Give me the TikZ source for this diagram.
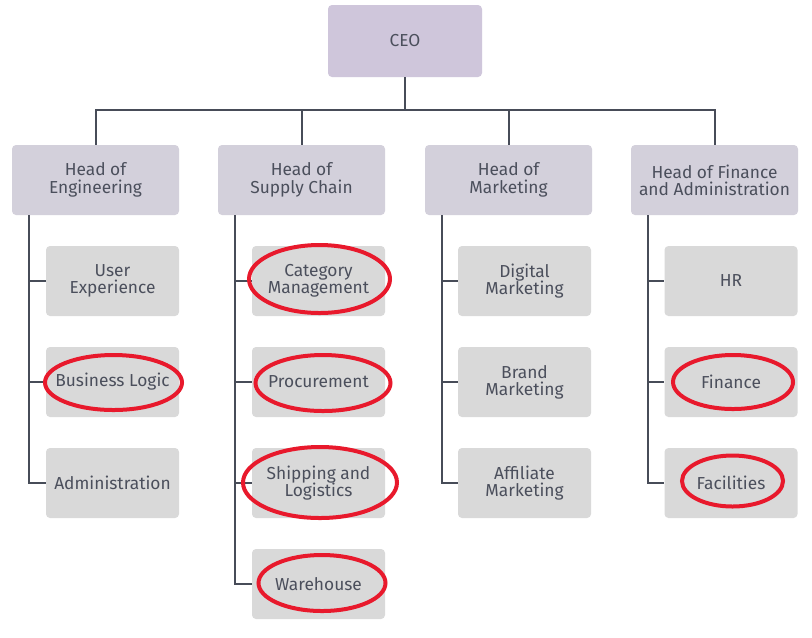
\documentclass[tikz,border=0pt]{standalone}
\usepackage{fontspec}
\setmainfont{Fira Sans}
\usetikzlibrary{shapes.geometric}
\newcommand\pxu{0.75pt}
\definecolor{ceofill}{HTML}{CFC6DB}
\definecolor{headfill}{HTML}{D3D0DB}
\definecolor{childfill}{HTML}{D9D9D9}
\definecolor{txt}{HTML}{4B4F5C}
\definecolor{linec}{HTML}{474C58}
\definecolor{ringred}{HTML}{E8192C}
\begin{document}
\begin{tikzpicture}[x=0.75pt,y=-0.75pt,
  box/.style={rectangle, rounded corners=4*\pxu, inner sep=0pt, align=center,
    text=txt, font=\fontsize{13pt}{13pt}\selectfont},
  ceobox/.style={box, fill=ceofill, minimum width=154*\pxu, minimum height=72*\pxu},
  headbox/.style={box, fill=headfill, minimum width=167*\pxu, minimum height=70*\pxu},
  childbox/.style={box, fill=childfill, minimum width=133*\pxu, minimum height=70*\pxu},
  conn/.style={draw=linec, line width=1.5pt},
  ring/.style={ellipse, draw=ringred, line width=3pt, inner sep=0pt}]
\useasboundingbox (0,0) rectangle (812,637);
\fill[white] (0,0) rectangle (812,637);

\node[ceobox] (ceo) at (405,41) {CEO};

\node[headbox] (h1) at (95.5,180) {Head of\\Engineering};
\node[headbox] (h2) at (301.5,180) {Head of\\Supply Chain};
\node[headbox] (h3) at (508.5,180) {Head of\\Marketing};
\node[headbox] (h4) at (714.5,180) {Head of Finance\\and Administration};

\node[childbox] (c11) at (112.5,281) {User\\Experience};
\node[childbox] (c12) at (112.5,382) {Business Logic};
\node[childbox] (c13) at (112.5,483) {Administration};

\node[childbox] (c21) at (318.5,281) {Category\\Management};
\node[childbox] (c22) at (318.5,382) {Procurement};
\node[childbox] (c23) at (318.5,483) {Shipping and\\Logistics};
\node[childbox] (c24) at (318.5,584) {Warehouse};

\node[childbox] (c31) at (524.5,281) {Digital\\Marketing};
\node[childbox] (c32) at (524.5,382) {Brand\\Marketing};
\node[childbox] (c33) at (524.5,483) {Affiliate\\Marketing};

\node[childbox] (c41) at (731,281) {HR};
\node[childbox] (c42) at (731,382) {Finance};
\node[childbox] (c43) at (731,483) {Facilities};

\coordinate (bus) at (405,110);
\draw[conn] (ceo.south) -- (bus);
\foreach \h in {h1,h2,h3,h4} \draw[conn] (bus) -| (\h.north);

\foreach \h/\c in {h1/c11,h1/c12,h1/c13,h2/c21,h2/c22,h2/c23,h2/c24,h3/c31,h3/c32,h3/c33,h4/c41,h4/c42,h4/c43}
  \draw[conn] ([xshift=17*\pxu]\h.south west) |- (\c.west);

\node[ring, minimum width=137*\pxu, minimum height=55*\pxu] (r1) at (113.5,382.5) {};
\node[ring, minimum width=141*\pxu, minimum height=68*\pxu] (r2) at (319.5,279) {};
\node[ring, minimum width=135*\pxu, minimum height=56*\pxu] (r3) at (323,383) {};
\node[ring, minimum width=154*\pxu, minimum height=71*\pxu] (r4) at (320,482.5) {};
\node[ring, minimum width=127*\pxu, minimum height=56*\pxu] (r5) at (322,583) {};
\node[ring, minimum width=120*\pxu, minimum height=54*\pxu] (r6) at (733,382) {};
\node[ring, minimum width=101*\pxu, minimum height=51*\pxu] (r7) at (732.5,481) {};
\end{tikzpicture}
\end{document}
